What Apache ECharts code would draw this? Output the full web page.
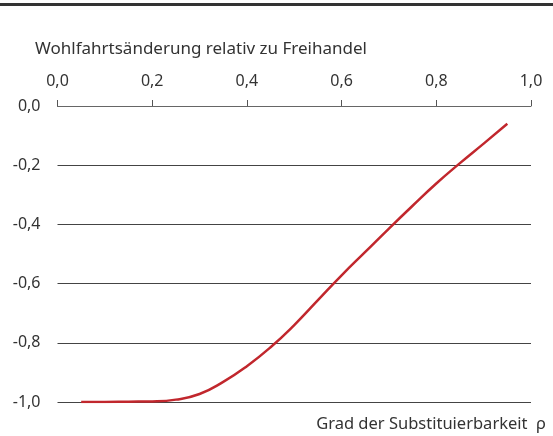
<!DOCTYPE html>
<html>
<head>
<meta charset="utf-8">
<script src="https://cdn.jsdelivr.net/npm/echarts@6/dist/echarts.min.js"></script>
<style>
	html, body { margin: 0; padding: 0; background: #fff; }
	#chart { width: 553px; height: 436px; }
</style>
</head>
<body>
<div id="chart"></div>
<script>
// Grad der Substituierbarkeit (x) und Wohlfahrtsänderung (y)
const rho = [0.05, 0.10, 0.15, 0.20, 0.25, 0.30, 0.35, 0.40, 0.45, 0.50,
	0.55, 0.60, 0.65, 0.70, 0.75, 0.80, 0.85, 0.90, 0.95];
const welfare = [-1.000, -1.000, -0.999, -0.998, -0.992, -0.973, -0.932, -0.879, -0.815, -0.740,
	-0.656, -0.572, -0.493, -0.414, -0.337, -0.262, -0.193, -0.127, -0.060];

const yTitle = 'Wohlfahrtsänderung relativ zu Freihandel';
const xTitle = 'Grad der Substituierbarkeit  ρ';

const fontFamily = '"Noto Sans", sans-serif';
const textColor = '#333';

const fmt = (v) => v.toFixed(1).replace('.', ',');

const chart = echarts.init(document.getElementById('chart'));
chart.setOption({
	animation: false,
	backgroundColor: '#fff',
	textStyle: { fontFamily },
	grid: { left: 57.5, right: 22, top: 106, bottom: 34 },
	xAxis: {
		type: 'value',
		position: 'top',
		min: 0,
		max: 1,
		interval: 0.2,
		axisLine: { show: true, lineStyle: { color: '#666', width: 1 } },
		axisTick: { show: true, inside: false, length: 6, lineStyle: { color: '#555' } },
		axisLabel: { color: textColor, fontSize: 16, margin: 17, formatter: fmt },
		splitLine: { show: false }
	},
	yAxis: {
		type: 'value',
		min: -1,
		max: 0,
		interval: 0.2,
		axisLine: { show: false },
		axisTick: { show: false },
		axisLabel: { color: textColor, fontSize: 16, margin: 17, formatter: fmt },
		splitLine: { show: true, lineStyle: { color: '#444', width: 1 } }
	},
	graphic: [
		{ type: 'rect', shape: { x: 0, y: 3, width: 553, height: 3 }, style: { fill: '#333' } },
		{ type: 'text', x: 35, y: 49, style: { text: yTitle, fill: textColor, fontSize: 17, fontFamily, verticalAlign: 'middle' } },
		{ type: 'text', x: 546, y: 424, style: { text: xTitle, fill: textColor, fontSize: 16.5, fontFamily, align: 'right', verticalAlign: 'middle' } }
	],
	series: [{
		type: 'line',
		data: rho.map((r, i) => [r, welfare[i]]),
		smooth: 0.5,
		showSymbol: false,
		lineStyle: { color: '#c1272d', width: 2.5 },
		z: 3
	}]
});
</script>
</body>
</html>
